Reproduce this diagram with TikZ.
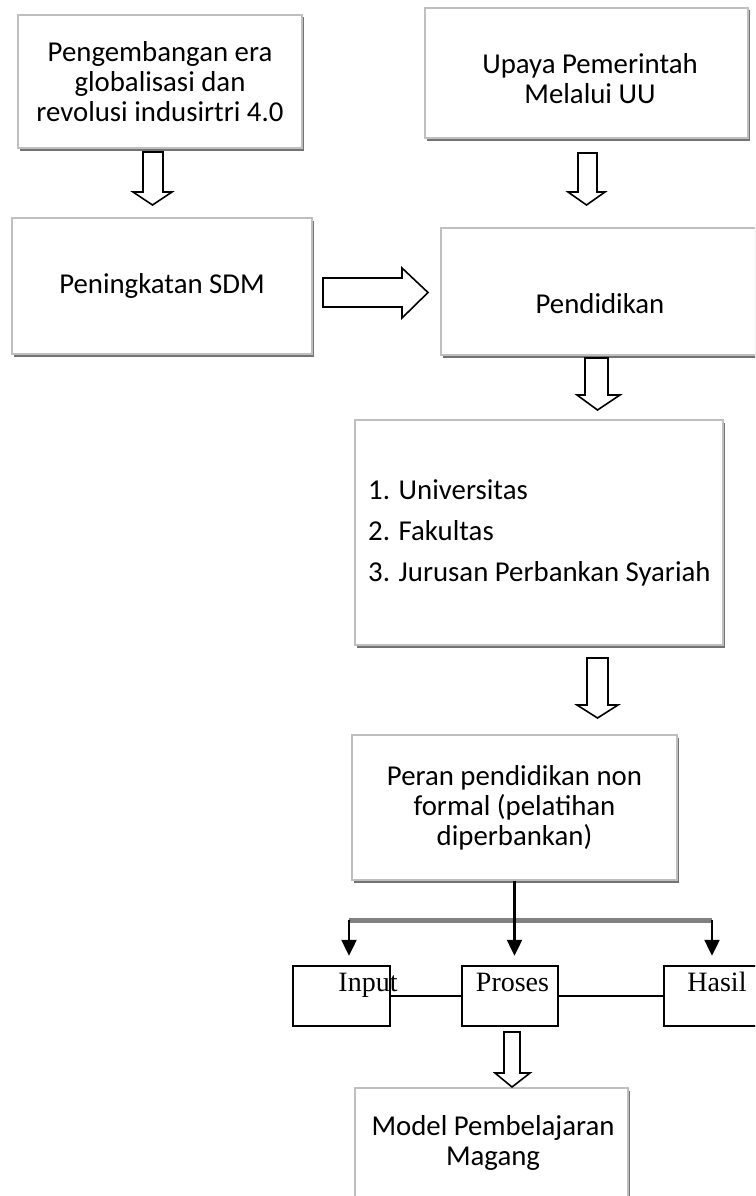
\documentclass[tikz,border=0pt]{standalone}
\usepackage{fontspec}
\setmainfont{Carlito}
\newfontfamily\serifface{Liberation Serif}
\usetikzlibrary{arrows.meta,shadows,calc}
\tikzset{
  sbox/.style={draw=black!25, line width=1.1pt, fill=white,
    drop shadow={shadow xshift=1.5pt, shadow yshift=-2.5pt, fill=black!55, opacity=1},
    inner sep=0pt, align=center, font=\fontsize{28.8}{30}\selectfont},
  btxt/.style={inner sep=0pt, align=center, font=\fontsize{28.8}{30}\selectfont},
  kbox/.style={draw=black, line width=2.4pt, fill=white, inner sep=0pt},
  klbl/.style={inner sep=0pt, font=\serifface\fontsize{28}{30}\selectfont},
  hollow/.style={draw=black, line width=1.6pt, fill=white, line join=miter},
  conn/.style={draw=black, line width=2.2pt, -{Triangle[width=15pt,length=16pt]}},
}
\begin{document}
\begin{tikzpicture}[x=1pt,y=-1pt]
\clip (0,0) rectangle (755,1196);
\fill[white] (0,0) rectangle (755,1196);
% boxes
\node[sbox, minimum width=284pt, minimum height=133pt] (b1) at (160,81.5)
  {Pengembangan era\\globalisasi dan\\revolusi indusirtri 4.0};
\node[sbox, minimum width=323pt, minimum height=130pt] (b2) at (586.5,73) {};
\node[btxt] (b2t) at (590,79) {Upaya Pemerintah\\Melalui UU};
\node[sbox, minimum width=300pt, minimum height=136pt] (b3) at (162,286)
  {Peningkatan SDM};
\node[sbox, minimum width=319pt, minimum height=127pt] (b4) at (600.5,291.5) {};
\node[btxt] (b4t) at (600,304) {Pendidikan};
\node[sbox, minimum width=368pt, minimum height=225pt] (b5) at (539,532.5) {};
\node[btxt, align=left, anchor=west, font=\fontsize{28.8}{41}\selectfont] (b5t) at (368,533)
  {1. Universitas\\2. Fakultas\\3. Jurusan Perbankan Syariah};
\node[sbox, minimum width=325pt, minimum height=145pt] (b6) at (514.5,807.5)
  {Peran pendidikan non\\formal (pelatihan\\diperbankan)};
\node[sbox, minimum width=273pt, minimum height=117pt] (b7) at (491.5,1146.5) {};
\node[btxt] (b7t) at (493,1143) {Model Pembelajaran\\Magang};
% black boxes
\node[kbox, minimum width=97pt, minimum height=60pt] (inp) at (341.5,996) {};
\node[kbox, minimum width=96pt, minimum height=60pt] (pro) at (510,996) {};
\node[kbox, minimum width=96pt, minimum height=60pt] (has) at (712,996) {};
\draw[line width=2pt] (inp.east) -- (pro.west);
\draw[line width=2pt] (pro.east) -- (has.west);
\node[klbl, anchor=base] (inpt) at (368,991) {Input};
\node[klbl, anchor=base] (prot) at (512.5,991) {Proses};
\node[klbl, anchor=base] (hast) at (717,991) {Hasil};
% branching connector
\coordinate (bl) at (349,920);
\coordinate (br) at (712,920);
\draw[black!50, line width=5pt] (bl) -- (br);
\draw[conn, shorten >=9pt] (b6.south) -- (b6.south |- pro.north);
\draw[conn, shorten >=9pt] (bl) -- (bl |- inp.north);
\draw[conn, shorten >=9pt] (br) -- (br |- has.north);
% hollow block arrows
\draw[hollow] (143,152) -- (163,152) -- (163,192) -- (172,192) -- (152.5,205)
  -- (133,192) -- (143,192) -- cycle;
\draw[hollow] (578,153) -- (597,153) -- (597,192) -- (605,192) -- (586.5,205)
  -- (568,192) -- (578,192) -- cycle;
\draw[hollow] (323,278) -- (402,278) -- (402,268) -- (428,292.5) -- (402,318)
  -- (402,307) -- (323,307) -- cycle;
\draw[hollow] (585,358) -- (608,358) -- (608,395) -- (620,395) -- (597.5,410)
  -- (577,395) -- (585,395) -- cycle;
\draw[hollow] (587,658) -- (608,658) -- (608,705) -- (618,705) -- (597.5,718)
  -- (577,705) -- (587,705) -- cycle;
\draw[hollow] (504,1032) -- (520,1032) -- (520,1073) -- (530,1073) -- (512,1087)
  -- (495,1073) -- (504,1073) -- cycle;
\end{tikzpicture}
\end{document}
